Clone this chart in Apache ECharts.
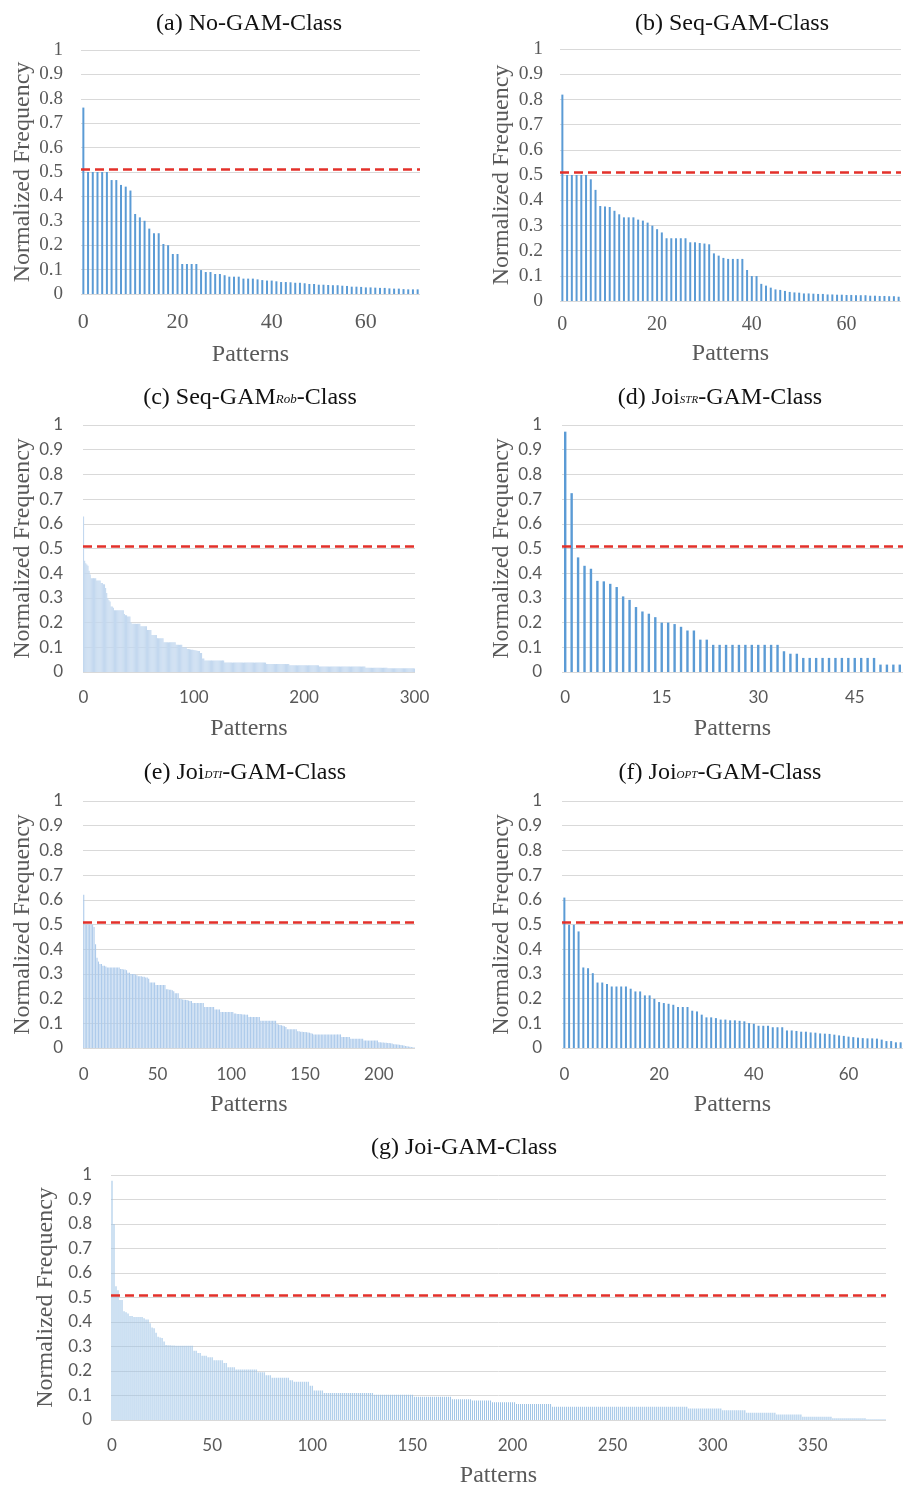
<!DOCTYPE html>
<html>
<head>
<meta charset="utf-8">
<title>Normalized pattern frequency</title>
<script src="https://cdn.jsdelivr.net/npm/echarts@6/dist/echarts.min.js"></script>
<style>
  html, body { margin: 0; padding: 0; background: #fff; }
  #chart { width: 903px; height: 1489px; }
</style>
</head>
<body>
<div id="chart"></div>
<script>
// normalized frequency of each pattern, sorted
const noGam = [
  0.764, 0.50, 0.50, 0.50, 0.50, 0.50, 0.467, 0.467, 0.447, 0.44,
  0.424, 0.328, 0.314, 0.30, 0.268, 0.249, 0.249, 0.205, 0.20, 0.164,
  0.164, 0.123, 0.123, 0.123, 0.123, 0.098, 0.09, 0.09, 0.082, 0.082,
  0.077, 0.071, 0.071, 0.071, 0.063, 0.063, 0.063, 0.06, 0.057, 0.055,
  0.055, 0.052, 0.049, 0.049, 0.048, 0.046, 0.046, 0.044, 0.041, 0.041,
  0.038, 0.038, 0.037, 0.036, 0.036, 0.034, 0.033, 0.03, 0.03, 0.029,
  0.027, 0.027, 0.026, 0.025, 0.025, 0.023, 0.022, 0.022, 0.02, 0.019,
  0.019, 0.019
];
const seqGam = [
  0.819, 0.50, 0.50, 0.50, 0.50, 0.50, 0.483, 0.441, 0.377, 0.375,
  0.373, 0.358, 0.344, 0.332, 0.332, 0.332, 0.323, 0.319, 0.311, 0.299,
  0.285, 0.272, 0.249, 0.249, 0.249, 0.249, 0.249, 0.233, 0.233, 0.23,
  0.228, 0.225, 0.189, 0.18, 0.171, 0.167, 0.167, 0.167, 0.167, 0.123,
  0.099, 0.099, 0.068, 0.061, 0.053, 0.046, 0.044, 0.04, 0.036, 0.034,
  0.033, 0.03, 0.03, 0.029, 0.028, 0.028, 0.026, 0.026, 0.025, 0.025,
  0.024, 0.024, 0.023, 0.023, 0.023, 0.021, 0.021, 0.02, 0.02, 0.019,
  0.019, 0.017
];
const seqGamRob = [
  0.63, 0.45, 0.44, 0.435, 0.43, 0.41, 0.395, 0.38, 0.38, 0.38,
  0.38, 0.38, 0.37, 0.37, 0.37, 0.37, 0.36, 0.36, 0.355, 0.355,
  0.34, 0.32, 0.30, 0.29, 0.285, 0.265, 0.265, 0.26, 0.25, 0.25,
  0.25, 0.25, 0.25, 0.25, 0.25, 0.25, 0.25, 0.235, 0.23, 0.23,
  0.225, 0.225, 0.225, 0.20, 0.195, 0.195, 0.195, 0.195, 0.195, 0.195,
  0.195, 0.195, 0.185, 0.185, 0.185, 0.185, 0.185, 0.185, 0.17, 0.17,
  0.17, 0.17, 0.15, 0.15, 0.15, 0.15, 0.15, 0.137, 0.137, 0.137,
  0.137, 0.137, 0.137, 0.12, 0.12, 0.12, 0.12, 0.12, 0.12, 0.12,
  0.12, 0.12, 0.12, 0.12, 0.11, 0.11, 0.11, 0.11, 0.11, 0.11,
  0.10, 0.10, 0.10, 0.10, 0.093, 0.093, 0.092, 0.091, 0.09, 0.09,
  0.089, 0.088, 0.087, 0.086, 0.085, 0.085, 0.077, 0.077, 0.055, 0.055,
  0.047, 0.047, 0.047, 0.047, 0.047, 0.047, 0.047, 0.047, 0.047, 0.047,
  0.047, 0.047, 0.047, 0.047, 0.047, 0.047, 0.047, 0.047, 0.038, 0.038,
  0.038, 0.038, 0.038, 0.038, 0.038, 0.038, 0.038, 0.038, 0.038, 0.038,
  0.038, 0.038, 0.038, 0.038, 0.038, 0.038, 0.038, 0.038, 0.038, 0.038,
  0.038, 0.038, 0.038, 0.038, 0.038, 0.038, 0.038, 0.038, 0.038, 0.038,
  0.038, 0.038, 0.038, 0.038, 0.038, 0.038, 0.032, 0.032, 0.032, 0.032,
  0.032, 0.032, 0.032, 0.032, 0.032, 0.032, 0.032, 0.032, 0.032, 0.032,
  0.032, 0.032, 0.032, 0.032, 0.032, 0.032, 0.032, 0.027, 0.027, 0.027,
  0.027, 0.027, 0.027, 0.027, 0.027, 0.027, 0.027, 0.027, 0.027, 0.027,
  0.027, 0.027, 0.027, 0.027, 0.027, 0.027, 0.027, 0.027, 0.027, 0.027,
  0.027, 0.027, 0.027, 0.027, 0.022, 0.022, 0.022, 0.022, 0.022, 0.022,
  0.022, 0.022, 0.022, 0.022, 0.022, 0.022, 0.022, 0.022, 0.022, 0.022,
  0.022, 0.022, 0.022, 0.022, 0.022, 0.022, 0.022, 0.022, 0.022, 0.022,
  0.022, 0.022, 0.022, 0.022, 0.022, 0.022, 0.022, 0.022, 0.022, 0.022,
  0.022, 0.022, 0.022, 0.022, 0.022, 0.022, 0.017, 0.017, 0.017, 0.017,
  0.017, 0.017, 0.017, 0.017, 0.017, 0.017, 0.017, 0.017, 0.017, 0.017,
  0.017, 0.017, 0.017, 0.017, 0.017, 0.017, 0.015, 0.015, 0.015, 0.015,
  0.015, 0.015, 0.015, 0.015, 0.015, 0.015, 0.015, 0.015, 0.015, 0.015,
  0.015, 0.015, 0.015, 0.015, 0.015, 0.015, 0.015, 0.015, 0.015, 0.015,
  0.014
];
const joiStr = [
  0.973, 0.724, 0.464, 0.43, 0.418, 0.369, 0.367, 0.357, 0.344, 0.306,
  0.292, 0.263, 0.245, 0.236, 0.222, 0.20, 0.20, 0.194, 0.183, 0.168,
  0.168, 0.131, 0.131, 0.11, 0.11, 0.11, 0.11, 0.11, 0.11, 0.11,
  0.11, 0.11, 0.11, 0.11, 0.084, 0.074, 0.074, 0.057, 0.057, 0.057,
  0.057, 0.057, 0.057, 0.057, 0.057, 0.057, 0.057, 0.057, 0.057, 0.03,
  0.03, 0.03, 0.03
];
const joiDti = [
  0.62, 0.50, 0.50, 0.50, 0.50, 0.50, 0.50, 0.49, 0.42, 0.365,
  0.35, 0.34, 0.34, 0.333, 0.333, 0.33, 0.326, 0.326, 0.326, 0.326,
  0.326, 0.326, 0.326, 0.326, 0.326, 0.32, 0.32, 0.318, 0.318, 0.315,
  0.305, 0.305, 0.30, 0.30, 0.30, 0.298, 0.295, 0.29, 0.29, 0.29,
  0.288, 0.288, 0.285, 0.285, 0.28, 0.265, 0.265, 0.265, 0.265, 0.255,
  0.255, 0.255, 0.255, 0.255, 0.255, 0.255, 0.238, 0.238, 0.236, 0.236,
  0.234, 0.23, 0.222, 0.222, 0.222, 0.20, 0.198, 0.196, 0.195, 0.195,
  0.194, 0.192, 0.19, 0.19, 0.182, 0.182, 0.182, 0.182, 0.182, 0.182,
  0.182, 0.182, 0.166, 0.166, 0.166, 0.166, 0.166, 0.166, 0.166, 0.156,
  0.156, 0.156, 0.156, 0.146, 0.146, 0.146, 0.146, 0.146, 0.146, 0.146,
  0.146, 0.146, 0.14, 0.14, 0.138, 0.138, 0.138, 0.137, 0.136, 0.136,
  0.135, 0.135, 0.126, 0.126, 0.126, 0.126, 0.126, 0.126, 0.126, 0.126,
  0.11, 0.11, 0.11, 0.11, 0.11, 0.11, 0.11, 0.11, 0.11, 0.11,
  0.11, 0.097, 0.095, 0.093, 0.092, 0.09, 0.088, 0.085, 0.076, 0.076,
  0.076, 0.076, 0.076, 0.076, 0.076, 0.068, 0.068, 0.066, 0.066, 0.065,
  0.065, 0.064, 0.063, 0.062, 0.06, 0.058, 0.055, 0.055, 0.055, 0.055,
  0.055, 0.055, 0.055, 0.055, 0.055, 0.055, 0.055, 0.055, 0.055, 0.055,
  0.055, 0.055, 0.055, 0.055, 0.055, 0.045, 0.045, 0.045, 0.045, 0.045,
  0.045, 0.037, 0.037, 0.037, 0.037, 0.037, 0.037, 0.037, 0.037, 0.037,
  0.03, 0.03, 0.03, 0.03, 0.03, 0.03, 0.03, 0.03, 0.03, 0.03,
  0.023, 0.023, 0.022, 0.022, 0.021, 0.021, 0.02, 0.02, 0.019, 0.018,
  0.015, 0.015, 0.014, 0.014, 0.013, 0.012, 0.011, 0.01, 0.008, 0.007,
  0.006, 0.005, 0.004, 0.003, 0.002
];
const joiOpt = [
  0.609, 0.499, 0.499, 0.472, 0.326, 0.323, 0.303, 0.265, 0.265, 0.259,
  0.249, 0.249, 0.249, 0.249, 0.24, 0.229, 0.229, 0.213, 0.213, 0.199,
  0.186, 0.182, 0.179, 0.175, 0.166, 0.166, 0.166, 0.151, 0.148, 0.135,
  0.124, 0.124, 0.121, 0.115, 0.115, 0.112, 0.112, 0.11, 0.108, 0.101,
  0.098, 0.09, 0.09, 0.09, 0.084, 0.084, 0.084, 0.071, 0.071, 0.069,
  0.066, 0.066, 0.063, 0.062, 0.059, 0.058, 0.057, 0.054, 0.051, 0.049,
  0.046, 0.044, 0.042, 0.04, 0.039, 0.039, 0.038, 0.034, 0.028, 0.028,
  0.023, 0.023
];
const joiGam = [
  0.977, 0.80, 0.546, 0.53, 0.49, 0.49, 0.444, 0.44, 0.435, 0.425,
  0.425, 0.42, 0.42, 0.42, 0.42, 0.42, 0.415, 0.41, 0.41, 0.395,
  0.378, 0.375, 0.356, 0.34, 0.337, 0.335, 0.32, 0.306, 0.305, 0.305,
  0.304, 0.304, 0.303, 0.303, 0.303, 0.303, 0.303, 0.303, 0.303, 0.303,
  0.303, 0.283, 0.283, 0.273, 0.273, 0.262, 0.262, 0.262, 0.256, 0.256,
  0.256, 0.244, 0.244, 0.244, 0.244, 0.244, 0.233, 0.233, 0.215, 0.215,
  0.215, 0.215, 0.206, 0.206, 0.206, 0.206, 0.206, 0.206, 0.206, 0.206,
  0.206, 0.206, 0.206, 0.195, 0.195, 0.195, 0.195, 0.183, 0.183, 0.183,
  0.172, 0.172, 0.172, 0.172, 0.172, 0.172, 0.172, 0.172, 0.172, 0.162,
  0.162, 0.156, 0.156, 0.156, 0.156, 0.156, 0.156, 0.156, 0.156, 0.14,
  0.14, 0.12, 0.12, 0.12, 0.12, 0.12, 0.11, 0.11, 0.11, 0.11,
  0.11, 0.11, 0.11, 0.11, 0.11, 0.11, 0.11, 0.11, 0.11, 0.11,
  0.11, 0.11, 0.11, 0.11, 0.11, 0.11, 0.11, 0.11, 0.11, 0.11,
  0.11, 0.103, 0.103, 0.103, 0.103, 0.103, 0.103, 0.103, 0.103, 0.103,
  0.103, 0.103, 0.103, 0.103, 0.103, 0.103, 0.103, 0.103, 0.103, 0.103,
  0.103, 0.095, 0.095, 0.095, 0.095, 0.095, 0.095, 0.095, 0.095, 0.095,
  0.095, 0.095, 0.095, 0.095, 0.095, 0.095, 0.095, 0.095, 0.095, 0.095,
  0.085, 0.085, 0.085, 0.085, 0.085, 0.085, 0.085, 0.085, 0.085, 0.085,
  0.08, 0.08, 0.08, 0.08, 0.08, 0.08, 0.08, 0.08, 0.08, 0.08,
  0.072, 0.072, 0.072, 0.072, 0.072, 0.072, 0.072, 0.072, 0.072, 0.072,
  0.072, 0.072, 0.065, 0.065, 0.065, 0.065, 0.065, 0.065, 0.065, 0.065,
  0.065, 0.065, 0.065, 0.065, 0.065, 0.065, 0.065, 0.065, 0.065, 0.065,
  0.054, 0.054, 0.054, 0.054, 0.054, 0.054, 0.054, 0.054, 0.054, 0.054,
  0.054, 0.054, 0.054, 0.054, 0.054, 0.054, 0.054, 0.054, 0.054, 0.054,
  0.054, 0.054, 0.054, 0.054, 0.054, 0.054, 0.054, 0.054, 0.054, 0.054,
  0.054, 0.054, 0.054, 0.054, 0.054, 0.054, 0.054, 0.054, 0.054, 0.054,
  0.054, 0.054, 0.054, 0.054, 0.054, 0.054, 0.054, 0.054, 0.054, 0.054,
  0.054, 0.054, 0.054, 0.054, 0.054, 0.054, 0.054, 0.054, 0.054, 0.054,
  0.054, 0.054, 0.054, 0.054, 0.054, 0.054, 0.054, 0.054, 0.047, 0.047,
  0.047, 0.047, 0.047, 0.047, 0.047, 0.047, 0.047, 0.047, 0.047, 0.047,
  0.047, 0.047, 0.047, 0.047, 0.047, 0.04, 0.04, 0.04, 0.04, 0.04,
  0.04, 0.04, 0.04, 0.04, 0.04, 0.04, 0.04, 0.03, 0.03, 0.03,
  0.03, 0.03, 0.03, 0.03, 0.03, 0.03, 0.03, 0.03, 0.03, 0.03,
  0.03, 0.03, 0.022, 0.022, 0.022, 0.022, 0.022, 0.022, 0.022, 0.022,
  0.022, 0.022, 0.022, 0.022, 0.022, 0.013, 0.013, 0.013, 0.013, 0.013,
  0.013, 0.013, 0.013, 0.013, 0.013, 0.013, 0.013, 0.013, 0.013, 0.013,
  0.007, 0.007, 0.007, 0.007, 0.007, 0.007, 0.007, 0.007, 0.007, 0.007,
  0.007, 0.007, 0.007, 0.007, 0.007, 0.007, 0.007, 0.003, 0.003, 0.003,
  0.003, 0.003, 0.003, 0.003, 0.003, 0.003, 0.003
];
const threshold = 0.507;

const SERIF = '"Liberation Serif", "Times New Roman", serif';
const SANS = 'Lato, Carlito, Calibri, sans-serif';
const GREY = '#595959';

// one entry per small chart
const panels = [
  { title: '(a) No-GAM-Class', values: noGam, step: 20, tx: 249, ty: 24,
    grid: { left: 81, top: 50, width: 339, height: 244 },
    tickFont: SERIF, xSize: 22, ySize: 19, xMargin: 17, yMargin: 18, gapX: 49, gapY: 46,
    barWidth: 2, color: '#5b9bd5' },
  { title: '(b) Seq-GAM-Class', values: seqGam, step: 20, tx: 732, ty: 24,
    grid: { left: 560, top: 49, width: 341, height: 252 },
    tickFont: SERIF, xSize: 20, ySize: 19.5, xMargin: 14, yMargin: 17, gapX: 41, gapY: 46,
    barWidth: 2, color: '#5b9bd5' },
  { title: '(c) Seq-GAM', sub: 'Rob', subSize: 13, tail: '-Class', values: seqGamRob, step: 100, tx: 250, ty: 398,
    grid: { left: 83, top: 425, width: 332, height: 247 },
    tickFont: SANS, xSize: 17, ySize: 17, xMargin: 17, yMargin: 20, gapX: 45, gapY: 48,
    barWidth: '100%', color: '#c3d8ef' },
  { title: '(d) Joi', sub: 'STR', subSize: 11, tail: '-GAM-Class', values: joiStr, step: 15, tx: 720, ty: 398,
    grid: { left: 562, top: 425, width: 342, height: 247 },
    tickFont: SANS, xSize: 17, ySize: 17, xMargin: 17, yMargin: 20, gapX: 45, gapY: 48,
    barWidth: 2.4, color: '#5b9bd5' },
  { title: '(e) Joi', sub: 'DTI', subSize: 11, tail: '-GAM-Class', values: joiDti, step: 50, tx: 245, ty: 773,
    grid: { left: 83, top: 801, width: 332, height: 247 },
    tickFont: SANS, xSize: 17, ySize: 17, xMargin: 18, yMargin: 20, gapX: 45, gapY: 48,
    barWidth: '75%', color: '#aecbeb' },
  { title: '(f) Joi', sub: 'OPT', subSize: 11, tail: '-GAM-Class', values: joiOpt, step: 20, tx: 720, ty: 773,
    grid: { left: 562, top: 801, width: 341, height: 247 },
    tickFont: SANS, xSize: 17, ySize: 17, xMargin: 18, yMargin: 20, gapX: 45, gapY: 48,
    barWidth: 2, color: '#5b9bd5' },
  { title: '(g) Joi-GAM-Class', values: joiGam, step: 50, tx: 464, ty: 1148,
    grid: { left: 111, top: 1175, width: 775, height: 248 },
    tickFont: SANS, xSize: 17, ySize: 17, xMargin: 17, yMargin: 19, gapX: 44, gapY: 49,
    barWidth: 1, color: '#9dc3e6' }
];

const chart = echarts.init(document.getElementById('chart'), null, { renderer: 'canvas' });

const option = {
  animation: false,
  backgroundColor: '#fff',
  grid: panels.map(p => Object.assign({ containLabel: false }, p.grid)),
  xAxis: panels.map((p, i) => ({
    type: 'category',
    gridIndex: i,
    data: p.values.map((v, k) => k),
    boundaryGap: true,
    axisLine: { show: false },
    axisTick: { show: false },
    axisLabel: {
      interval: p.step - 1,
      color: GREY,
      fontFamily: p.tickFont,
      fontSize: p.xSize,
      margin: p.xMargin
    },
    name: 'Patterns',
    nameLocation: 'middle',
    nameGap: p.gapX,
    nameTextStyle: { fontFamily: SERIF, fontSize: 24, color: GREY }
  })),
  yAxis: panels.map((p, i) => ({
    type: 'value',
    gridIndex: i,
    min: 0,
    max: 1,
    interval: 0.1,
    axisLine: { show: false },
    axisTick: { show: false },
    splitLine: { lineStyle: { color: '#d9d9d9', width: 1 } },
    axisLabel: {
      color: GREY,
      fontFamily: p.tickFont,
      fontSize: p.ySize,
      margin: p.yMargin
    },
    name: 'Normalized Frequency',
    nameLocation: 'middle',
    nameGap: p.gapY,
    nameTextStyle: { fontFamily: SERIF, fontSize: 24, color: GREY }
  })),
  series: panels.map((p, i) => ({
    type: 'bar',
    xAxisIndex: i,
    yAxisIndex: i,
    data: p.values,
    barWidth: p.barWidth,
    silent: true,
    itemStyle: { color: p.color },
    markLine: {
      silent: true,
      symbol: 'none',
      label: { show: false },
      lineStyle: { color: '#e3312a', width: 2.6, type: [9, 5] },
      data: [{ yAxis: threshold }]
    }
  })),
  graphic: panels.map(p => ({
    type: 'text',
    x: p.tx,
    y: p.ty,
    silent: true,
    style: {
      text: p.sub ? p.title + '{s|' + p.sub + '}' + p.tail : p.title,
      fontFamily: SERIF,
      fontSize: 24,
      fill: '#111',
      textAlign: 'center',
      textVerticalAlign: 'middle',
      rich: {
        s: {
          fontFamily: SERIF, fontSize: p.subSize || 12, fontStyle: 'italic', fill: '#111',
          verticalAlign: 'bottom', padding: [0, 0, 4, 0]
        }
      }
    }
  }))
};

chart.setOption(option);
</script>
</body>
</html>
